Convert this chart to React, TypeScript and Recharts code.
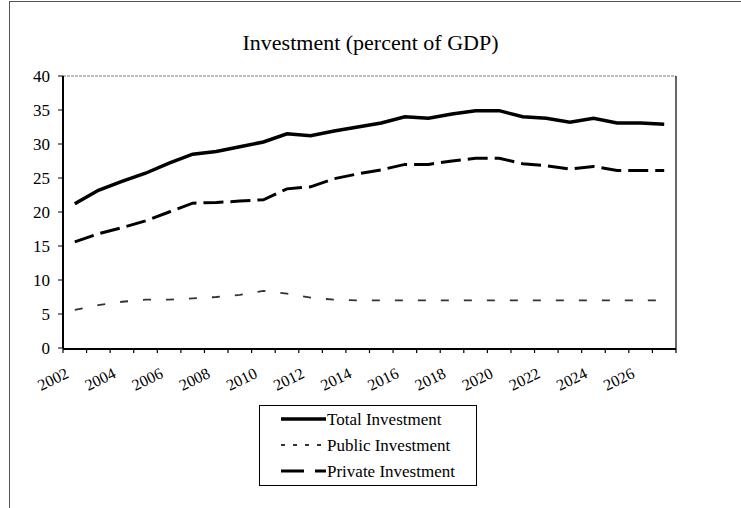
import React from 'react';
import { LineChart, Line, XAxis, YAxis, Legend } from 'recharts';

const SERIF = '"Liberation Serif", "Times New Roman", serif';

const years = [
  2002, 2003, 2004, 2005, 2006, 2007, 2008, 2009, 2010, 2011, 2012, 2013, 2014,
  2015, 2016, 2017, 2018, 2019, 2020, 2021, 2022, 2023, 2024, 2025, 2026, 2027,
];
const totalInvestment = [
  21.2, 23.2, 24.5, 25.7, 27.2, 28.5, 28.9, 29.6, 30.3, 31.5, 31.2, 31.9, 32.5,
  33.1, 34.0, 33.8, 34.4, 34.9, 34.9, 34.0, 33.8, 33.2, 33.8, 33.1, 33.1, 32.9,
];
const publicInvestment = [
  5.6, 6.3, 6.8, 7.1, 7.1, 7.3, 7.5, 7.8, 8.4, 8.0, 7.4, 7.1, 7.0,
  7.0, 7.0, 7.0, 7.0, 7.0, 7.0, 7.0, 7.0, 7.0, 7.0, 7.0, 7.0, 7.0,
];
const privateInvestment = [
  15.6, 16.8, 17.7, 18.7, 20.0, 21.3, 21.4, 21.6, 21.8, 23.4, 23.7, 24.9, 25.6,
  26.2, 27.0, 27.0, 27.5, 27.9, 27.9, 27.1, 26.8, 26.3, 26.7, 26.1, 26.1, 26.1,
];
const yTicks = [0, 5, 10, 15, 20, 25, 30, 35, 40];
const yearLabels = years.filter((y) => y % 2 === 0);

// ticks sit between categories, like the original spreadsheet chart
const boundaryTicks = [...years.map((y) => y - 0.5), years[years.length - 1] + 0.5];
const xDomain = [years[0] - 0.5, years[years.length - 1] + 0.5];

const series = [
  { key: 'total', name: 'Total Investment', color: '#000', width: 3.5, dash: undefined as string | undefined, legendDash: undefined as string | undefined },
  { key: 'public', name: 'Public Investment', color: '#333', width: 1.8, dash: '8 15', legendDash: '4 8' },
  { key: 'private', name: 'Private Investment', color: '#000', width: 3, dash: '20 7', legendDash: '23 11' },
];

const data = years.map((year, i) => ({
  year,
  total: totalInvestment[i],
  public: publicInvestment[i],
  private: privateInvestment[i],
}));

const YearTick = (props: any) => {
  const { x, y, payload } = props;
  const ax = x - 5;
  const ay = y + 28;
  return (
    <text
      x={ax}
      y={ay}
      transform={`rotate(-26 ${ax} ${ay})`}
      textAnchor="end"
      fontSize={16}
      fontFamily={SERIF}
      fill="#000"
    >
      {payload.value}
    </text>
  );
};

const NoLabel = () => <g />;

const LegendBox = () => (
  <div
    style={{
      boxSizing: 'border-box',
      width: 218,
      height: 81,
      border: '1px solid #000',
      background: '#fff',
    }}
  >
    <svg width={216} height={79}>
      {series.map((s, i) => {
        const cy = 13 + i * 26;
        return (
          <g key={s.key}>
            <line
              x1={21}
              x2={66}
              y1={cy}
              y2={cy}
              stroke={s.color}
              strokeWidth={s.width}
              strokeDasharray={s.legendDash}
            />
            <text x={67} y={cy + 6} fontSize={17} fontFamily={SERIF} fill="#000">
              {s.name}
            </text>
          </g>
        );
      })}
    </svg>
  </div>
);

export default function App() {
  return (
    <div style={{ position: 'absolute', left: 0, top: 0, width: 741, height: 508, background: '#fff' }}>
      <div
        style={{
          position: 'absolute',
          left: 9,
          top: 1,
          width: 732,
          height: 507,
          borderLeft: '1px solid #555',
          borderTop: '1px solid #555',
        }}
      />
      <div
        style={{
          position: 'absolute',
          left: 0,
          top: 31,
          width: 741,
          textAlign: 'center',
          fontFamily: SERIF,
          fontSize: 22,
          lineHeight: '24px',
          color: '#000',
        }}
      >
        Investment (percent of GDP)
      </div>
      <div style={{ position: 'absolute', left: 0, top: 0 }}>
        <LineChart width={741} height={508} data={data} margin={{ top: 75, right: 64, bottom: 158, left: 13 }}>
          <XAxis
            xAxisId="main"
            dataKey="year"
            type="number"
            domain={xDomain}
            ticks={yearLabels}
            interval={0}
            height={1}
            tickSize={0}
            tickMargin={0}
            tickLine={false}
            axisLine={{ stroke: '#000', strokeWidth: 2 }}
            tick={<YearTick />}
          />
          <XAxis
            xAxisId="bounds"
            dataKey="year"
            type="number"
            domain={xDomain}
            ticks={boundaryTicks}
            interval={0}
            height={1}
            tick={<NoLabel />}
            axisLine={false}
            tickLine={{ stroke: '#000', strokeWidth: 1.2 }}
            tickSize={5}
          />
          <XAxis
            xAxisId="top"
            orientation="top"
            dataKey="year"
            type="number"
            domain={xDomain}
            height={1}
            tick={false}
            tickLine={false}
            axisLine={{ stroke: '#777', strokeWidth: 1, strokeDasharray: '3 1' }}
          />
          <YAxis
            yAxisId="left"
            domain={[0, 40]}
            ticks={yTicks}
            interval={0}
            width={50}
            tickSize={5}
            tickMargin={8}
            axisLine={{ stroke: '#000', strokeWidth: 2 }}
            tickLine={{ stroke: '#000', strokeWidth: 1 }}
            tick={{ fill: '#000', fontSize: 17, fontFamily: SERIF }}
          />
          <YAxis
            yAxisId="right"
            orientation="right"
            domain={[0, 40]}
            width={1}
            tick={false}
            tickLine={false}
            axisLine={{ stroke: '#333', strokeWidth: 1.5 }}
          />
          {series.map((s) => (
            <Line
              key={s.key}
              xAxisId="main"
              yAxisId="left"
              type="linear"
              dataKey={s.key}
              name={s.name}
              stroke={s.color}
              strokeWidth={s.width}
              strokeDasharray={s.dash}
              dot={false}
              activeDot={false}
              isAnimationActive={false}
            />
          ))}
          <Legend
            layout="horizontal"
            verticalAlign="middle"
            align="center"
            wrapperStyle={{ left: 259, top: 405, width: 218, height: 81 }}
            content={() => <LegendBox />}
          />
        </LineChart>
      </div>
    </div>
  );
}
